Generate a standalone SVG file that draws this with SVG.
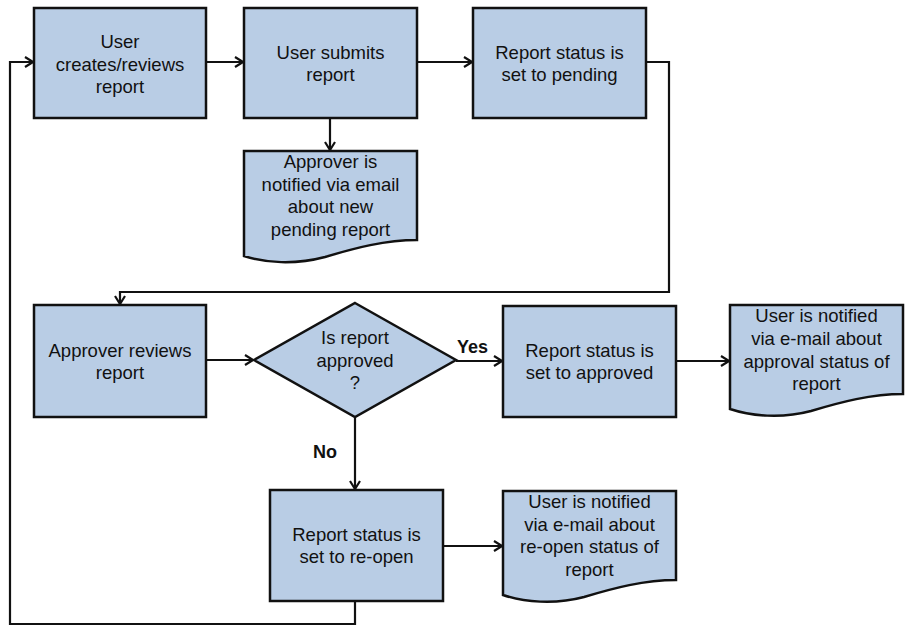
<svg xmlns="http://www.w3.org/2000/svg" width="909" height="626" viewBox="0 0 909 626">
<defs>
<style>
.n{fill:#B9CDE5;stroke:#111;stroke-width:2.5;stroke-linejoin:miter}
.t{font-family:"Liberation Sans",Arial,sans-serif;font-size:18.5px;fill:#111;text-anchor:middle}
.b{font-family:"Liberation Sans",Arial,sans-serif;font-size:18px;font-weight:bold;fill:#111}
.c{fill:none;stroke:#111;stroke-width:2.2;marker-end:url(#ah)}
.c2{fill:none;stroke:#111;stroke-width:2.2}
</style>
<marker id="ah" viewBox="0 0 12 12" refX="11" refY="6" markerWidth="12" markerHeight="12" markerUnits="userSpaceOnUse" orient="auto">
<path d="M3,1 L11,6 L3,11" fill="none" stroke="#111" stroke-width="2.2"/>
</marker>
</defs>
<rect width="909" height="626" fill="#fff"/>
<g id="connectors">
<path class="c" d="M206,62 H243"/>
<path class="c" d="M417,62 H472"/>
<path class="c" d="M330,118 V150"/>
<path class="c" d="M646,62 H669 V292 H120 V304"/>
<path class="c" d="M206,360 H253"/>
<path class="c" d="M456,361 H502"/>
<path class="c" d="M676,361 H729"/>
<path class="c" d="M355,417 V489"/>
<path class="c" d="M443,546 H502"/>
<path class="c" d="M355,601 V624 H10 V62 H33"/>
</g>
<g id="n1">
<rect class="n" x="34" y="8" width="172" height="110"/>
<text class="t" x="120" y="48">User</text>
<text class="t" x="120" y="70.5">creates/reviews</text>
<text class="t" x="120" y="93">report</text>
</g>
<g id="n2">
<rect class="n" x="244" y="8" width="173" height="110"/>
<text class="t" x="330.5" y="59">User submits</text>
<text class="t" x="330.5" y="81">report</text>
</g>
<g id="n3">
<rect class="n" x="473" y="8" width="173" height="110"/>
<text class="t" x="559.5" y="59">Report status is</text>
<text class="t" x="559.5" y="81">set to pending</text>
</g>
<g id="n4">
<path class="n" d="M244,151 H417 V240 C385,240 355,248 325,257 C295,265 265,263 244,256 Z"/>
<text class="t" x="330.5" y="168">Approver is</text>
<text class="t" x="330.5" y="190.5">notified via email</text>
<text class="t" x="330.5" y="213">about new</text>
<text class="t" x="330.5" y="235.5">pending report</text>
</g>
<g id="n5">
<rect class="n" x="34" y="305" width="172" height="112"/>
<text class="t" x="120" y="357">Approver reviews</text>
<text class="t" x="120" y="379">report</text>
</g>
<g id="n6">
<polygon class="n" points="355,303 456,360 355,417 254,360"/>
<text class="t" x="355" y="344">Is report</text>
<text class="t" x="355" y="367">approved</text>
<text class="t" x="355" y="389">?</text>
</g>
<text class="b" x="457" y="353">Yes</text>
<text class="b" x="313" y="458">No</text>
<g id="n7">
<rect class="n" x="503" y="306" width="173" height="111"/>
<text class="t" x="589.5" y="357">Report status is</text>
<text class="t" x="589.5" y="379">set to approved</text>
</g>
<g id="n8">
<path class="n" d="M730,305 H903 V394 C871,394 841,402 811,411 C781,419 751,416 730,409 Z"/>
<text class="t" x="816.5" y="322">User is notified</text>
<text class="t" x="816.5" y="345">via e-mail about</text>
<text class="t" x="816.5" y="367.5">approval status of</text>
<text class="t" x="816.5" y="390">report</text>
</g>
<g id="n9">
<rect class="n" x="270" y="490" width="173" height="111"/>
<text class="t" x="356.5" y="541">Report status is</text>
<text class="t" x="356.5" y="563">set to re-open</text>
</g>
<g id="n10">
<path class="n" d="M503,491 H676 V580 C644,580 614,588 584,597 C554,605 524,602 503,595 Z"/>
<text class="t" x="589.5" y="508">User is notified</text>
<text class="t" x="589.5" y="530.5">via e-mail about</text>
<text class="t" x="589.5" y="553">re-open status of</text>
<text class="t" x="589.5" y="575.5">report</text>
</g>
</svg>
